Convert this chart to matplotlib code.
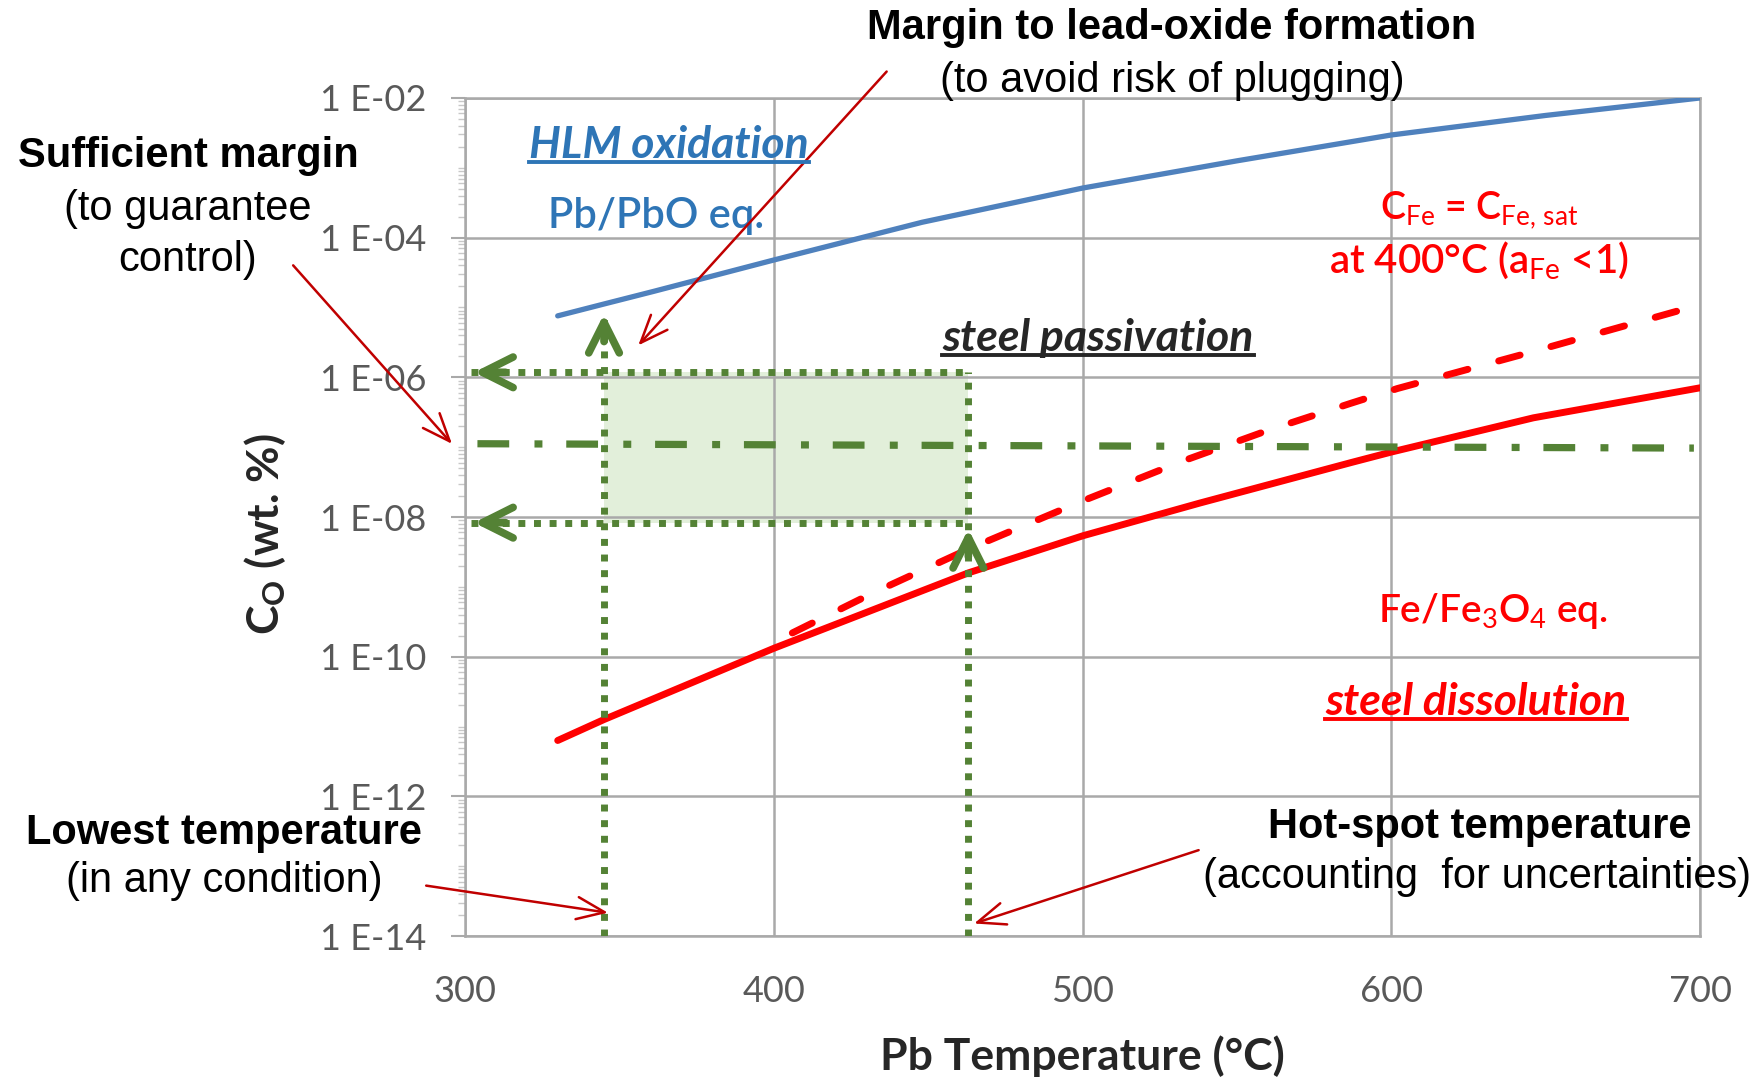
import numpy as np
import matplotlib
matplotlib.use('Agg')
import matplotlib.pyplot as plt
from matplotlib.lines import Line2D
from matplotlib.patches import FancyArrowPatch
from matplotlib.ticker import LogLocator, NullFormatter

# curves (temperature in degC, log10 of C_O in wt.%)
temp_pbo = [330, 345, 361, 400, 448, 500, 550, 600, 650, 700]
log_pbo = [-5.12, -4.95, -4.77, -4.32, -3.78, -3.29, -2.90, -2.53, -2.25, -2.00]

temp_fe = [330, 345, 400, 463, 500, 538, 587, 600, 646, 700]
log_fe = [-11.20, -10.90, -9.88, -8.80, -8.27, -7.80, -7.22, -7.07, -6.58, -6.15]

temp_fe_sat = [406, 432, 463, 500, 533, 560, 587, 602, 646, 700]
log_fe_sat = [-9.66, -9.09, -8.46, -7.77, -7.19, -6.76, -6.37, -6.16, -5.63, -4.96]

# operating window
t_low, t_hot = 345, 463
co_upper, co_lower = 1.18e-6, 8.3e-9
co_margin = [1.12e-7, 0.97e-7]
t_margin = [304, 698]
t_arrow = 302
co_arrow_top = 8.9e-6
co_arrow_hot = 7.4e-9

xticks = [300, 400, 500, 600, 700]
yticks = [1e-14, 1e-12, 1e-10, 1e-08, 1e-06, 1e-04, 1e-02]
ytick_labels = ['1 E-14', '1 E-12', '1 E-10', '1 E-08', '1 E-06', '1 E-04', '1 E-02']

GREEN = '#548235'
RED = '#ff0000'
DARKRED = '#c00000'
BLUE_LINE = '#4f81bd'
BLUE_TXT = '#2e75b6'
GRID = '#a9a9a9'

plt.rcParams['mathtext.fontset'] = 'custom'
plt.rcParams['mathtext.rm'] = 'Lato'
plt.rcParams['mathtext.it'] = 'Lato:italic'
plt.rcParams['mathtext.bf'] = 'Lato:bold'

fig = plt.figure(figsize=(17.57, 10.79), dpi=100)
ax = fig.add_axes([0.2647, 0.1325, 0.7029, 0.7767])

ax.set_yscale('log')
ax.set_xlim(300, 700)
ax.set_ylim(1e-14, 1e-2)

ax.grid(True, which='major', color=GRID, lw=1.8, zorder=0)
for s in ax.spines.values():
    s.set_color(GRID)
    s.set_linewidth(1.8)

ax.set_xticks(xticks)
ax.set_xticklabels([str(t) for t in xticks])
ax.set_yticks(yticks)
ax.set_yticklabels(ytick_labels)
ax.yaxis.set_minor_locator(LogLocator(base=10, subs=np.arange(1, 10), numticks=200))
ax.yaxis.set_minor_formatter(NullFormatter())
ax.tick_params(axis='both', which='major', colors=GRID, labelcolor='#595959',
               width=1.5, labelsize=26)
ax.tick_params(axis='y', which='major', length=10, pad=18)
ax.tick_params(axis='x', which='major', length=0, pad=28)
ax.tick_params(axis='y', which='minor', colors='#c8c8c8', length=5, width=1)
for lab in ax.get_xticklabels() + ax.get_yticklabels():
    lab.set_family(['Lato', 'DejaVu Sans'])

# shaded window
ax.fill_between([t_low, t_hot], co_lower, co_upper, color='#e2efda', lw=0, zorder=1)

# curves
ax.plot(temp_pbo, 10 ** np.array(log_pbo), color=BLUE_LINE, lw=3.8, zorder=3,
        solid_capstyle='round')
ax.plot(temp_fe, 10 ** np.array(log_fe), color=RED, lw=5, zorder=3,
        solid_capstyle='round')
ax.plot(temp_fe_sat, 10 ** np.array(log_fe_sat), color=RED, lw=5, zorder=3,
        linestyle=(0, (3.2, 4.6)), dash_capstyle='round')

# green limits
dot = (0, (1, 1.25))
ax.plot([t_arrow, t_hot], [co_upper, co_upper], color=GREEN, lw=5, ls=dot, zorder=4)
ax.plot([t_arrow, t_hot], [co_lower, co_lower], color=GREEN, lw=5, ls=dot, zorder=4)
ax.plot([t_low, t_low], [1e-14, co_arrow_top], color=GREEN, lw=5, ls=dot, zorder=4)
ax.plot([t_hot, t_hot], [1e-14, co_upper], color=GREEN, lw=5, ls=dot, zorder=4)
ax.plot(t_margin, co_margin, color=GREEN, lw=5.2, ls=(0, (4.4, 3.5, 1.1, 3.3)), zorder=4)

head = dict(arrowstyle='->,head_length=1.1,head_width=0.55', color=GREEN, lw=5.5,
            mutation_scale=20, capstyle='round', joinstyle='round')
ax.annotate('', xy=(t_low, co_arrow_top), xytext=(t_low, co_arrow_top / 3),
            arrowprops=head, zorder=5)
ax.annotate('', xy=(t_hot, co_arrow_hot), xytext=(t_hot, co_arrow_hot / 3),
            arrowprops=head, zorder=5)
ax.annotate('', xy=(t_arrow, co_upper), xytext=(t_arrow + 12, co_upper),
            arrowprops=head, zorder=5)
ax.annotate('', xy=(t_arrow, co_lower), xytext=(t_arrow + 12, co_lower),
            arrowprops=head, zorder=5)

# text inside the chart
inner = ['Lato', 'DejaVu Sans']
t_hlm = ax.text(366, 10 ** -2.675, 'HLM oxidation', color=BLUE_TXT, fontsize=32,
                family=inner, style='italic', weight='bold', ha='center', va='center')
ax.text(362, 10 ** -3.69, 'Pb/PbO eq.', color=BLUE_TXT, fontsize=30, weight=600,
        family=inner, ha='center', va='center')
ax.text(628.5, 10 ** -3.61, r'C$_\mathrm{Fe}$ = C$_\mathrm{Fe,\,sat}$', color=RED,
        fontsize=27, weight=600, family=inner, ha='center', va='center')
ax.text(628.5, 10 ** -4.33, r'at 400°C (a$_\mathrm{Fe}$ <1)', color=RED,
        fontsize=29, weight=600, family=inner, ha='center', va='center')
t_pas = ax.text(505, 10 ** -5.44, 'steel passivation', color='#262626', fontsize=32,
                family=inner, style='italic', weight='bold', ha='center', va='center')
ax.text(633, 10 ** -9.35, r'Fe/Fe$_3$O$_4$ eq.', color=RED, fontsize=28, weight=600,
        family=inner, ha='center', va='center')
t_dis = ax.text(627.4, 10 ** -10.65, 'steel dissolution', color=RED, fontsize=32,
                family=inner, style='italic', weight='bold', ha='center', va='center')

ax.set_xlabel('Pb Temperature (°C)', fontsize=32, weight='bold', family=inner,
              color='#262626', va='center')
ax.xaxis.set_label_coords(0.5, -0.143)
ax.set_ylabel(r'C$_\mathbf{O}$ (wt. %)', fontsize=32, weight='bold', family=inner,
              color='#262626')
ax.yaxis.set_label_coords(-0.143, 0.48)

# annotations outside
outer = ['Liberation Sans', 'DejaVu Sans']
fs = 30
fig.text(0.667, 0.974, 'Margin to lead-oxide formation', fontsize=fs, weight='bold',
         family=outer, ha='center', va='center')
fig.text(0.667, 0.925, '(to avoid risk of plugging)', fontsize=fs,
         family=outer, ha='center', va='center')
fig.text(0.107, 0.855, 'Sufficient margin', fontsize=fs, weight='bold',
         family=outer, ha='center', va='center')
fig.text(0.107, 0.806, '(to guarantee', fontsize=fs, family=outer, ha='center', va='center')
fig.text(0.107, 0.759, 'control)', fontsize=fs, family=outer, ha='center', va='center')
fig.text(0.1276, 0.228, 'Lowest temperature', fontsize=fs, weight='bold',
         family=outer, ha='center', va='center')
fig.text(0.1276, 0.1838, '(in any condition)', fontsize=fs, family=outer,
         ha='center', va='center')
fig.text(0.842, 0.2336, 'Hot-spot temperature', fontsize=fs, weight='bold',
         family=outer, ha='center', va='center')
fig.text(0.8406, 0.187, '(accounting  for uncertainties)', fontsize=fs, family=outer,
         ha='center', va='center')

pointer = dict(arrowstyle='->,head_length=1.0,head_width=0.4', color=DARKRED, lw=1.8,
               mutation_scale=20)
for start, end in [((0.5057, 0.9356), (0.3622, 0.678)),
                   ((0.1658, 0.756), (0.2583, 0.5867)),
                   ((0.241, 0.1796), (0.3476, 0.1537)),
                   ((0.6837, 0.2129), (0.5529, 0.1433))]:
    fig.add_artist(FancyArrowPatch(start, end, transform=fig.transFigure, **pointer))

# underline the italic labels
fig.canvas.draw()
renderer = fig.canvas.get_renderer()
inv = fig.transFigure.inverted()
for t in [t_hlm, t_pas, t_dis]:
    bb = t.get_window_extent(renderer)
    (x0, y0), (x1, y1) = inv.transform([(bb.x0, bb.y0), (bb.x1, bb.y1)])
    fig.add_artist(Line2D([x0, x1], [y0 + 0.003, y0 + 0.003], transform=fig.transFigure,
                          color=t.get_color(), lw=2.8))

fig.savefig('out.png', dpi=100)
